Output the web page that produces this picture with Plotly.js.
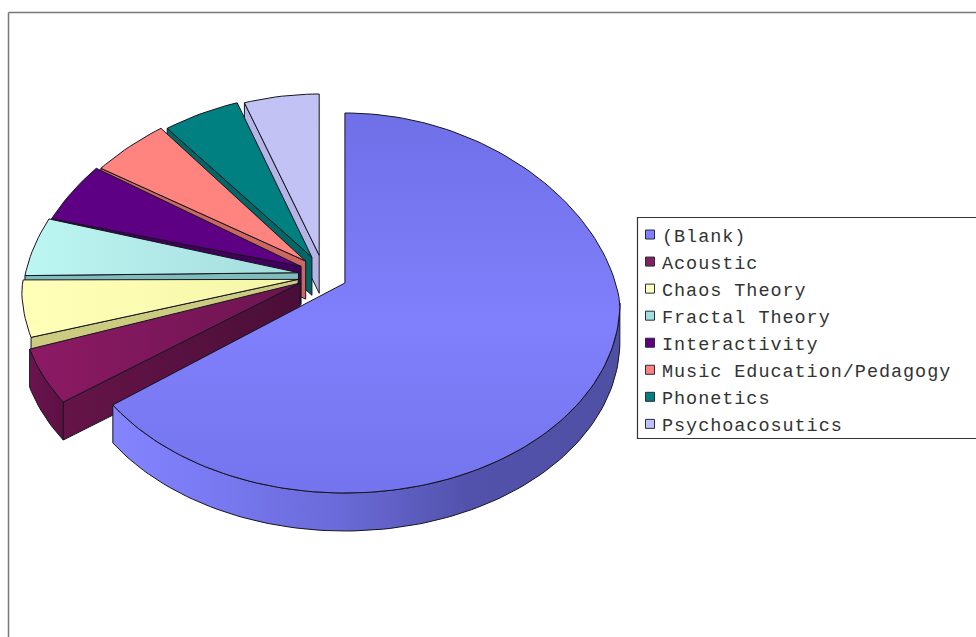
<!DOCTYPE html>
<html>
<head>
<meta charset="utf-8">
<script src="https://cdn.plot.ly/plotly-3.0.1.min.js"></script>
<style>
html,body{margin:0;padding:0;background:#fff;overflow:hidden}
#chart{width:976px;height:637px}
.legend .legendtext{letter-spacing:0.95px}
.legend .legendsymbols{transform:translate(8px,0)}
.legend .scrollbox{clip-path:none !important}
</style>
</head>
<body>
<div id="chart"></div>
<script>
// ---- data ----
const categories = ["(Blank)","Acoustic","Chaos Theory","Fractal Theory","Interactivity","Music Education/Pedagogy","Phonetics","Psychoacosutics"];
const values = [66, 4.86, 4.86, 4.86, 4.86, 4.86, 4.86, 4.86];

// ---- styles ----
const topColors  = ["#7c7cf6","#861a60","#ffffb0","#b4eeea","#5e0084","#ff8480","#008080","#c2c2f4"];
const swatches   = ["#8080ff","#802060","#ffffc0","#a0e0e0","#600080","#ff8080","#008080","#c0c0ff"];
const cutColors  = ["#5050a8","#5a1040","#cccc80","#80bcbc","#42005c","#cc6660","#006666","#b4b4e6"];

// ---- projection of the tilted, exploded pie onto plot units ----
const RX = 275, RY = 190, DEPTH = 38, PULL = 25;
const rad = d => d * Math.PI / 180;
function geom(mid) {
  const cm = Math.cos(rad(mid)), sm = Math.sin(rad(mid));
  return {
    cx: 323 + PULL * sm - 13 * Math.max(0, -cm) * Math.max(0, -sm),
    cy: 284 + Math.min(19, 40 * Math.max(0, -cm)),
    ay: Math.min(283, 277 - 22 * cm),
    ax: 323 + PULL * sm
  };
}
function rim(g, th) {
  const c = Math.cos(rad(th));
  const f = c > 0 ? 1 - 0.1 * c : 1;
  return [g.cx + RX * f * Math.sin(rad(th)), g.cy - RY * c];
}
function arc(g, a, b, dy) {
  const pts = [], n = Math.max(2, Math.ceil(Math.abs(b - a) / 1.5));
  for (let i = 0; i <= n; i++) {
    const p = rim(g, a + (b - a) * i / n);
    pts.push([p[0], p[1] + dy]);
  }
  return pts;
}
function poly(pts, color, grad) {
  const t = {
    type: "scatter", mode: "lines", fill: "toself",
    x: pts.map(p => p[0]).concat(pts[0][0]),
    y: pts.map(p => p[1]).concat(pts[0][1]),
    line: {color: "#15151f", width: 1},
    fillcolor: color, showlegend: false, hoverinfo: "skip"
  };
  if (grad) t.fillgradient = grad;
  return t;
}

// ---- slices, back to front ----
const total = values.reduce((a, b) => a + b, 0);
let acc = 0;
const slices = values.map((v, i) => {
  const a = acc / total * 360; acc += v;
  const b = acc / total * 360;
  return {i, a, b, g: geom((a + b) / 2)};
});
const traces = [];
function hgrad(stops, start, stop) {
  return {type: "horizontal", start, stop, colorscale: stops};
}
slices.slice(1).reverse().concat([slices[0]]).forEach(s => {
  const {i, a, b, g} = s, apex = [g.ax, g.ay];
  if (i > 0) {
    const r = rim(g, a);
    traces.push(poly([apex, r, [r[0], r[1] + DEPTH], [apex[0], apex[1] + DEPTH]], cutColors[i],
      i === 1 ? hgrad([[0, "#661448"], [1, "#4a0e38"]], 60, 300) : null));
  }
  const lo = Math.max(a, 90), hi = Math.min(b, 270);
  if (hi > lo && Math.cos(rad((a + b) / 2)) < -0.2) {
    const w = arc(g, lo, hi, 0).concat(arc(g, hi, lo, DEPTH));
    traces.push(poly(w, cutColors[i], i === 0
      ? hgrad([[0, "#8484ff"], [0.18, "#7a7af4"], [0.45, "#6a6ad8"], [0.7, "#5252ac"], [1, "#4f4fa4"]], 112, 620)
      : hgrad([[0, "#6a1450"], [1, "#5a1040"]], 30, 70)));
  }
  const top = [apex].concat(arc(g, a, b, 0));
  let grad = null;
  if (i === 0) grad = {type: "vertical", start: 113, stop: 493,
    colorscale: [[0, "#6f6fe8"], [0.55, "#8080fc"], [1, "#7474ee"]]};
  if (i === 1) grad = hgrad([[0, "#8c1a64"], [1, "#6c1450"]], 30, 300);
  if (i === 2) grad = hgrad([[0, "#ffffb8"], [1, "#f6f6a8"]], 24, 300);
  if (i === 3) grad = hgrad([[0, "#bcf6f2"], [1, "#a4dcdc"]], 28, 300);
  traces.push(poly(top, topColors[i], grad));
});

// ---- legend entries ----
categories.forEach((name, i) => traces.push({
  type: "scatter", mode: "markers", x: [null], y: [null], name,
  marker: {symbol: "square", size: 9, color: swatches[i], line: {color: "#2a2a3a", width: 1}},
  hoverinfo: "skip"
}));

const frame = {color: "#777777", width: 1.5};
const layout = {
  width: 976, height: 637,
  margin: {l: 0, r: 0, t: 0, b: 0},
  paper_bgcolor: "#ffffff", plot_bgcolor: "#ffffff",
  xaxis: {range: [0, 976], visible: false, fixedrange: true},
  yaxis: {range: [637, 0], visible: false, fixedrange: true},
  showlegend: true,
  legend: {
    x: 622 / 976, y: 1 - 216 / 637, xanchor: "left", yanchor: "top",
    bgcolor: "rgba(0,0,0,0)", borderwidth: 0, tracegroupgap: 0, itemwidth: 30,
    font: {family: "Liberation Mono, monospace", size: 18.5, color: "#333333"}
  },
  shapes: [
    {type: "line", xref: "paper", yref: "paper", x0: 8.5 / 976, x1: 8.5 / 976, y0: 0, y1: 1 - 12.5 / 637, line: frame},
    {type: "line", xref: "paper", yref: "paper", x0: 8.5 / 976, x1: 1, y0: 1 - 12.5 / 637, y1: 1 - 12.5 / 637, line: frame},
    {type: "rect", xref: "paper", yref: "paper", x0: 637.5 / 976, x1: 1.002, y0: 1 - 217.5 / 637, y1: 1 - 438.5 / 637,
     line: {color: "#333333", width: 1.2}, fillcolor: "#ffffff"}
  ]
};
Plotly.newPlot("chart", traces, layout, {displayModeBar: false});
</script>
</body>
</html>
